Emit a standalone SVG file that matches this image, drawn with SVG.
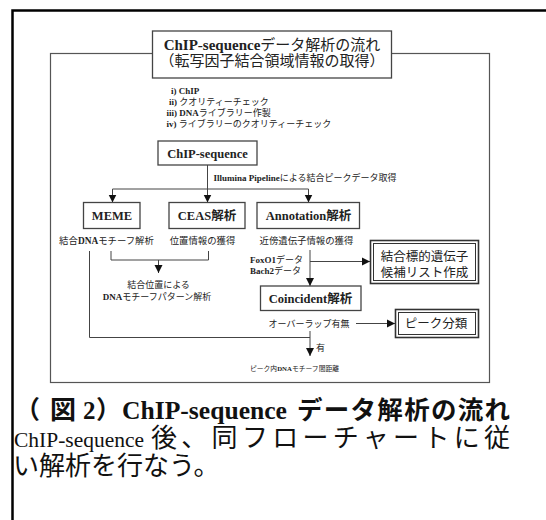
<svg xmlns="http://www.w3.org/2000/svg" width="546" height="520" viewBox="0 0 546 520">
<defs>
<marker id="ah" viewBox="0 0 10 10" refX="10" refY="5" markerWidth="8" markerHeight="9" markerUnits="userSpaceOnUse" orient="auto">
<path d="M0,0 L10,5 L0,10 z" fill="#111"/>
</marker>
<style>
.f{font-family:"Liberation Serif","Noto Sans CJK JP",serif;fill:#222}
.s{font-family:"Liberation Serif","Noto Sans CJK JP",sans-serif;fill:#111}
.b{font-weight:bold}
.m{text-anchor:middle}
.box{fill:#fff;stroke:#444;stroke-width:1.3}
.ln{fill:none;stroke:#444;stroke-width:1}
.ar{marker-end:url(#ah)}
.t13{font-size:12.5px;font-weight:bold}
.t10{font-size:9.4px}
.t9{font-size:9px}
</style>
</defs>
<rect width="546" height="520" fill="#fff"/>
<path d="M12.5,520 V10.5 H546" fill="none" stroke="#000" stroke-width="2.5"/>
<rect id="frame" x="50.5" y="53.5" width="439" height="329" fill="none" stroke="#555" stroke-width="1.2"/>

<g id="title">
<rect class="box" x="152.5" y="31" width="239" height="47" stroke="#777"/>
<text class="f m" x="272" y="49.5" font-size="15"><tspan class="b">ChIP-sequence</tspan>データ解析の流れ</text>
<text class="f m" x="272" y="66" font-size="15">（転写因子結合領域情報の取得）</text>
</g>

<g id="steps" class="f t9">
<text x="171" y="94"><tspan class="b">i) ChIP</tspan></text>
<text x="169" y="105"><tspan class="b">ii)</tspan> クオリティーチェック</text>
<text x="166.5" y="116"><tspan class="b">iii) DNA</tspan>ライブラリー作製</text>
<text x="166.5" y="127"><tspan class="b">iv)</tspan> ライブラリーのクオリティーチェック</text>
</g>

<g id="connectors">
<path class="ln" d="M207.5,165 V189"/>
<path class="ln" d="M112.5,189 H308.5"/>
<path class="ln ar" d="M112.5,189 V202.5"/>
<path class="ln ar" d="M207.5,189 V202.5"/>
<path class="ln ar" d="M308.5,189 V202.5"/>
<path class="ln" d="M111,251 V260 H208.5 V251"/>
<path class="ln ar" d="M158.5,260 V273"/>
<path class="ln" d="M89.5,251 V337.5 H310"/>
<path class="ln ar" d="M310,250 V286"/>
<path class="ln ar" d="M310,261.5 H370"/>
<path class="ln ar" d="M356,323.5 H395"/>
<path class="ln ar" d="M310,331 V356"/>
</g>

<g id="chipseq">
<rect class="box" x="158" y="141" width="99" height="24"/>
<text class="f m t13" x="207.5" y="157.5">ChIP-sequence</text>
</g>
<text class="f t9" x="213.5" y="180.5"><tspan class="b">Illumina Pipeline</tspan>による結合ピークデータ取得</text>

<g id="meme">
<rect class="box" x="83.5" y="202.5" width="56.5" height="26"/>
<text class="f m t13" x="112" y="220">MEME</text>
<text class="f m t10" x="106.5" y="243.5">結合<tspan class="b">DNA</tspan>モチーフ解析</text>
</g>
<g id="ceas">
<rect class="box" x="169" y="202.5" width="76" height="26"/>
<text class="f m t13" x="207" y="220">CEAS解析</text>
<text class="f m t10" x="202.5" y="243.5">位置情報の獲得</text>
</g>
<g id="annotation">
<rect class="box" x="257" y="202.5" width="102.5" height="26"/>
<text class="f m t13" x="308.5" y="220">Annotation解析</text>
<text class="f m t10" x="306.5" y="243.5">近傍遺伝子情報の獲得</text>
</g>

<g id="motifpattern">
<text class="f m t9" x="158.5" y="287.5">結合位置による</text>
<text class="f m t9" x="157" y="299.5"><tspan class="b">DNA</tspan>モチーフパターン解析</text>
</g>

<g id="datalabels" class="f t9">
<text x="250" y="262.5"><tspan class="b">FoxO1</tspan>データ</text>
<text x="250" y="273.5"><tspan class="b">Bach2</tspan>データ</text>
</g>

<g id="targetlist">
<rect x="370.5" y="240.5" width="108" height="43" fill="#fff" stroke="#333" stroke-width="1.6"/>
<rect x="373.5" y="243.5" width="102" height="37" fill="none" stroke="#333" stroke-width="1"/>
<text class="f m" x="424.5" y="260.5" font-size="12.5" fill="#333">結合標的遺伝子</text>
<text class="f m" x="424.5" y="276.5" font-size="12.5" fill="#333">候補リスト作成</text>
</g>

<g id="coincident">
<rect class="box" x="260.5" y="286" width="100.5" height="24.5"/>
<text class="f m t13" x="310.5" y="302.5">Coincident解析</text>
<text class="f t9" x="268.5" y="326.5">オーバーラップ有無</text>
</g>

<g id="peakclass">
<rect x="395.5" y="309.5" width="83" height="28" fill="#fff" stroke="#333" stroke-width="1.6"/>
<rect x="398.5" y="312.5" width="77" height="22" fill="none" stroke="#333" stroke-width="1"/>
<text class="f m" x="436" y="328" font-size="12.5" fill="#333">ピーク分類</text>
</g>

<text class="f t9" x="316" y="351">有</text>
<g id="motifdistance">
<text class="f m" x="294.5" y="370.5" font-size="6.8">ピーク内<tspan class="b">DNA</tspan>モチーフ間距離</text>
</g>

<g id="caption" class="s" font-weight="bold">
<text x="15" y="419" font-size="25">（</text>
<text x="50" y="419" font-size="26">図</text>
<text x="83" y="419" font-size="25">2</text>
<text x="96" y="419" font-size="25">）</text>
<text x="122" y="419" font-size="25.5" textLength="165" lengthAdjust="spacingAndGlyphs">ChIP-sequence</text>
<text x="297" y="419" font-size="25.5" textLength="213" lengthAdjust="spacing">データ解析の流れ</text>
</g>
<g id="caption-body" class="s">
<text x="14" y="447" font-size="21.5">ChIP-sequence</text>
<text x="151" y="447" font-size="26" textLength="359" lengthAdjust="spacing">後、同フローチャートに従</text>
<text x="13" y="475" font-size="26">い解析を行なう。</text>
</g>
</svg>
